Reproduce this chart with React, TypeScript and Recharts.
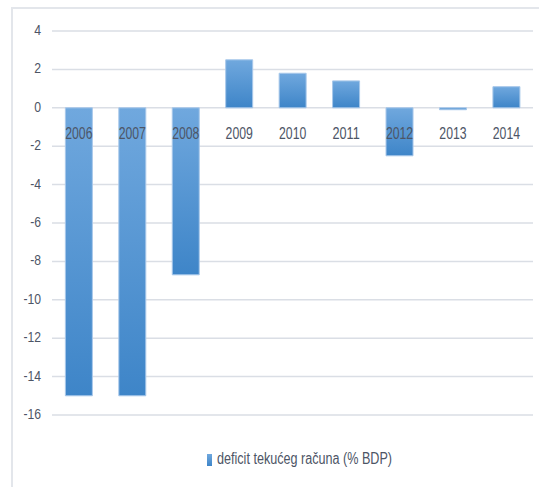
import { Bar, BarChart, CartesianGrid, LabelList, Legend, XAxis, YAxis } from "recharts"

const years = ["2006", "2007", "2008", "2009", "2010", "2011", "2012", "2013", "2014"]
const deficit = [-15, -15, -8.7, 2.5, 1.8, 1.4, -2.5, -0.1, 1.1]
const yTicks = [4, 2, 0, -2, -4, -6, -8, -10, -12, -14, -16]
const seriesName = "deficit tekućeg računa (% BDP)"

const data = years.map((year, i) => ({ year, value: deficit[i] }))

const FONT = '"Liberation Sans", Arial, sans-serif'
const TEXT = "#4d5566"

// the source font is a narrow one, so squeeze the glyphs to its width
const narrowWidth = (s: string) =>
  s.split("").reduce((w, c) => w + (c === "-" ? 4 : 6.8), 0)

// year labels sit just under the zero line, over the bars
function YearLabel(props: any) {
  const vb = props.viewBox ?? props
  const x = Number(vb.x)
  const y = Number(vb.y)
  const w = Number(vb.width)
  const h = Number(vb.height)
  const v = deficit[props.index] ?? 0
  const zero = v >= 0 ? Math.max(y, y + h) : Math.min(y, y + h)
  const label = years[props.index]
  return (
    <text
      x={x + w / 2}
      y={zero + 27}
      textAnchor="middle"
      dominantBaseline="middle"
      fill={TEXT}
      fontSize={16}
      fontFamily={FONT}
      textLength={narrowWidth(label)}
      lengthAdjust="spacingAndGlyphs"
    >
      {label}
    </text>
  )
}

function YTick(props: any) {
  const { x, y, payload } = props
  const label = String(payload.value)
  return (
    <text
      x={x}
      y={y}
      textAnchor="end"
      dominantBaseline="middle"
      fill={TEXT}
      fontSize={15}
      fontFamily={FONT}
      textLength={narrowWidth(label)}
      lengthAdjust="spacingAndGlyphs"
    >
      {label}
    </text>
  )
}

function LegendBox() {
  return (
    <div style={{ height: 60, position: "relative" }}>
      <svg width={539} height={60} style={{ position: "absolute", left: 0, top: 0 }}>
        <defs>
          <linearGradient id="legendFill" x1="0" y1="0" x2="0" y2="1">
            <stop offset="0%" stopColor="#70a8de" />
            <stop offset="100%" stopColor="#3e85c8" />
          </linearGradient>
        </defs>
        <rect x={195} y={39} width={5} height={12} fill="url(#legendFill)" />
        <text
          x={205}
          y={45}
          dominantBaseline="middle"
          fill={TEXT}
          fontSize={16}
          fontFamily={FONT}
          textLength={175}
          lengthAdjust="spacingAndGlyphs"
        >
          {seriesName}
        </text>
      </svg>
    </div>
  )
}

export default function App() {
  return (
    <div style={{ position: "absolute", left: 0, top: 0, width: 539, height: 487, background: "#fff" }}>
      <div
        style={{
          position: "absolute",
          left: 11,
          top: 7,
          right: 0,
          bottom: 0,
          borderTop: "2px solid #e3e6eb",
          borderLeft: "2px solid #e3e6eb",
        }}
      />
      <BarChart
        width={539}
        height={487}
        data={data}
        margin={{ top: 31, right: 6, left: 12, bottom: 12 }}
        barCategoryGap="25%"
        style={{ position: "absolute", left: 0, top: 0 }}
      >
        <defs>
          <linearGradient id="barFill" x1="0" y1="0" x2="0" y2="1">
            <stop offset="0%" stopColor="#70a8de" />
            <stop offset="100%" stopColor="#3e85c8" />
          </linearGradient>
        </defs>
        <CartesianGrid vertical={false} stroke="#dadee5" strokeWidth={1.5} />
        <XAxis dataKey="year" hide />
        <YAxis
          domain={[-16, 4]}
          ticks={yTicks}
          width={40}
          axisLine={false}
          tickLine={false}
          tickMargin={5}
          tick={<YTick />}
        />
        <Legend verticalAlign="bottom" content={() => <LegendBox />} />
        <Bar
          dataKey="value"
          name={seriesName}
          fill="url(#barFill)"
          stroke="#a8c8ea"
          strokeWidth={1}
          isAnimationActive={false}
        >
          <LabelList dataKey="year" content={YearLabel} />
        </Bar>
      </BarChart>
    </div>
  )
}
